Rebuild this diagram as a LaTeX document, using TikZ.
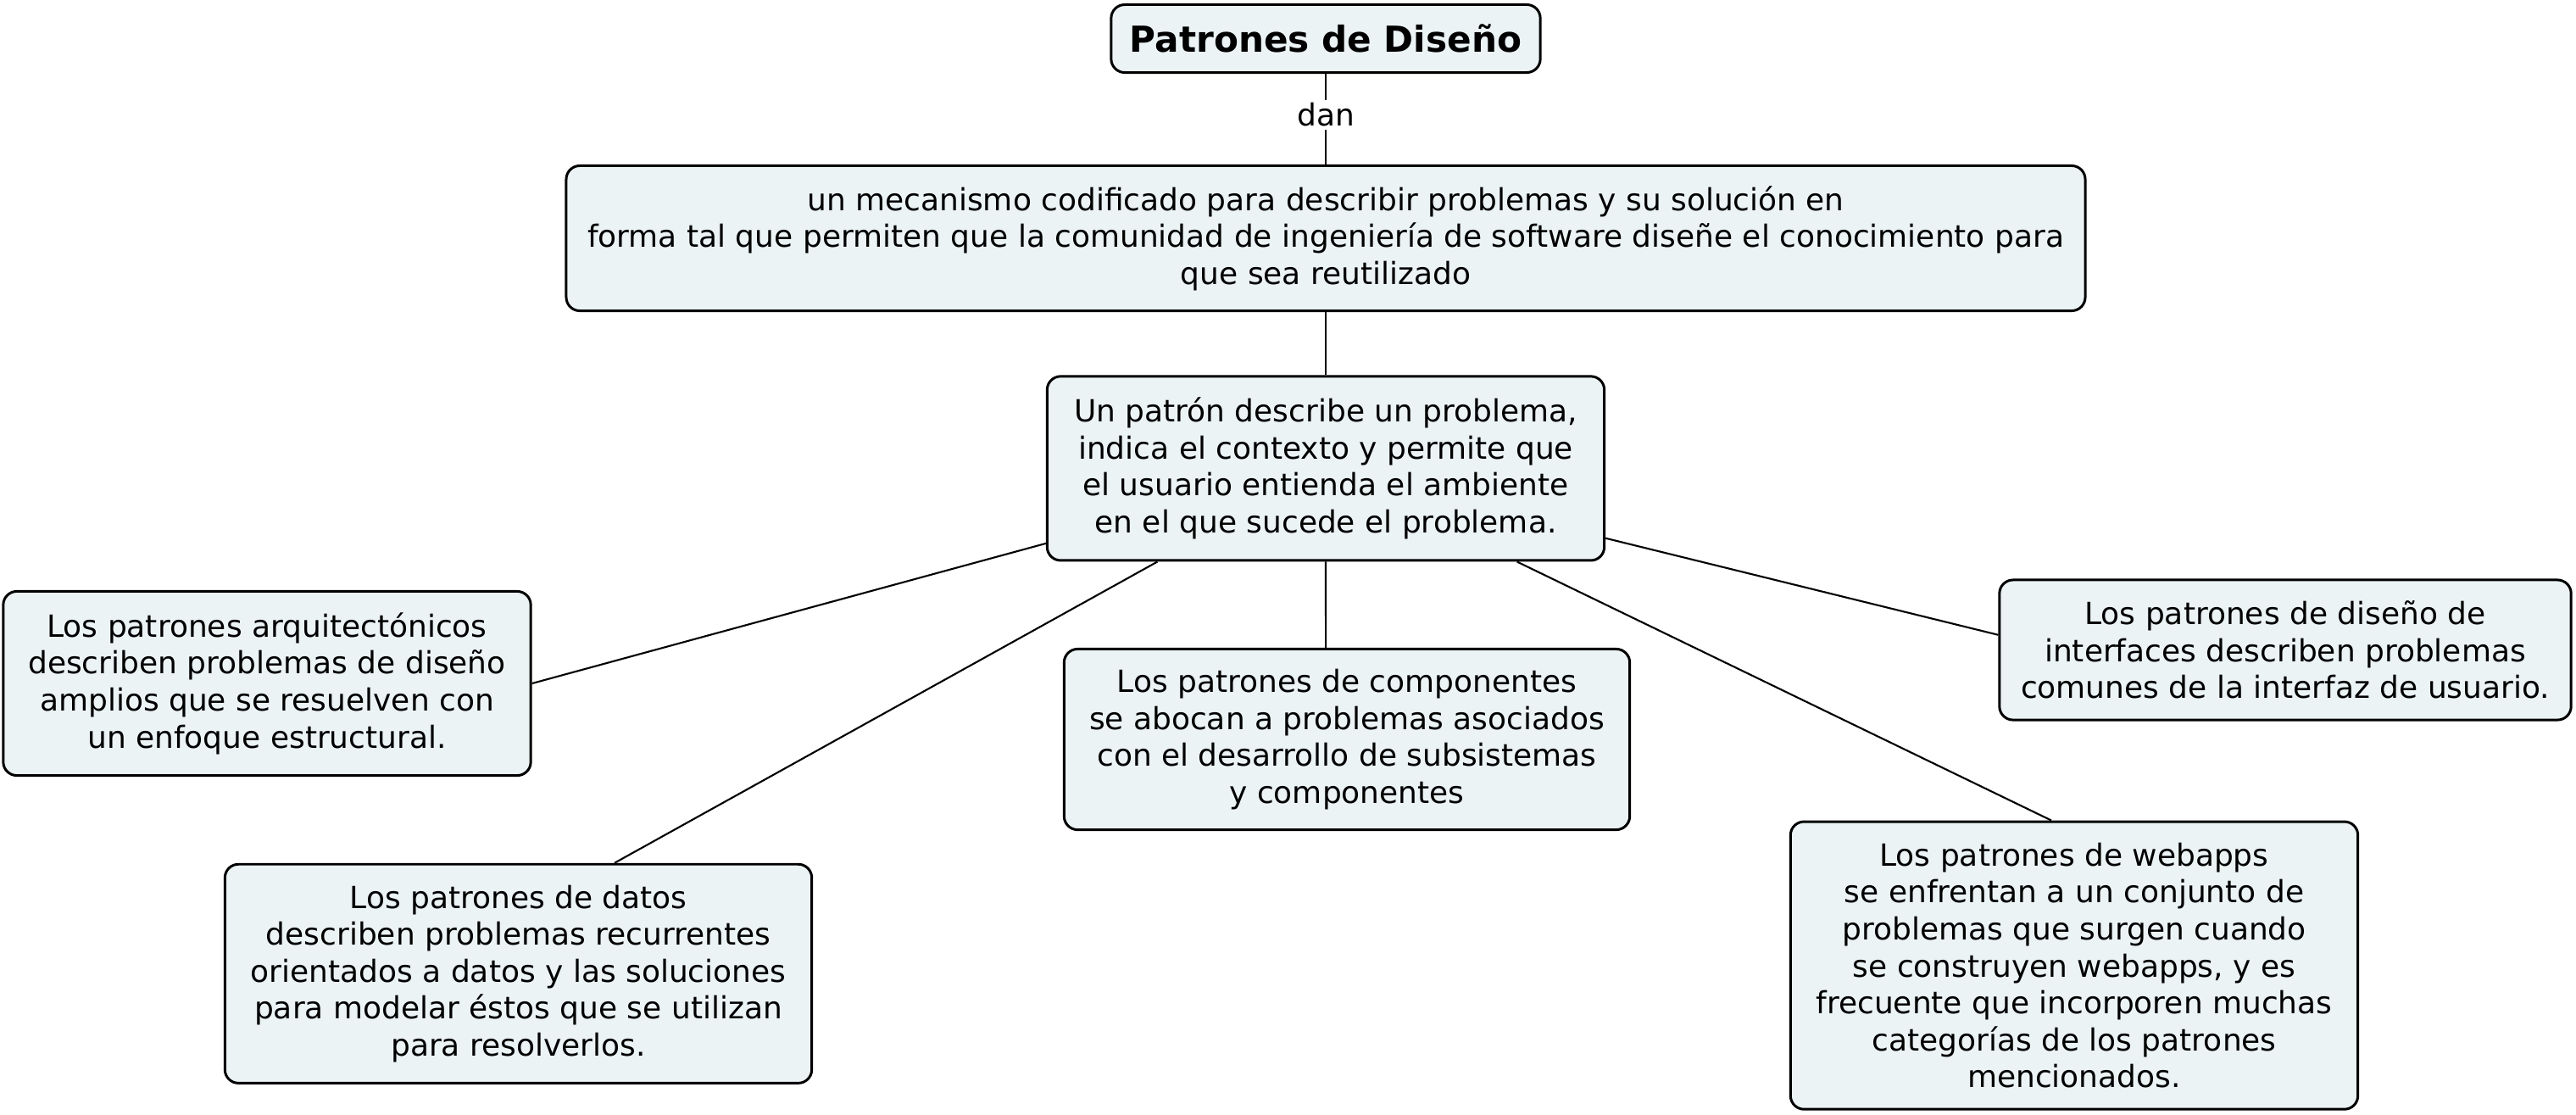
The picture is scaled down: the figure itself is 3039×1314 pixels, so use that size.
\documentclass[tikz,border=0pt]{standalone}
\usepackage{fontspec}
\setmainfont{DejaVu Sans}
\usepackage{tikz}
\usepackage{xcolor}
\usetikzlibrary{shapes}
\definecolor{conceptfill}{RGB}{235,243,245}

\begin{document}
\begin{tikzpicture}[x=0.01cm,y=-0.01cm,
concept/.style={draw,line width=0.85pt,rounded corners=0.16cm,fill=conceptfill,align=center,inner sep=0pt,font=\fontsize{10.23}{12.4}\selectfont},
link/.style={line width=0.6pt}]
\useasboundingbox (0,0) rectangle (3039,1314);
\node[concept,minimum width=5.06cm,minimum height=0.8cm,font=\bfseries\fontsize{12}{14}\selectfont](titulo) at (1564,45.5){Patrones de Diseño};
\node[concept,minimum width=17.91cm,minimum height=1.71cm](mecanismo) at (1564,281){un mecanismo codificado para describir problemas y su solución en\\forma tal que permiten que la comunidad de ingeniería de software diseñe el conocimiento para\\que sea reutilizado};
\node[concept,minimum width=6.57cm,minimum height=2.17cm](patron) at (1564,552.4){Un patrón describe un problema,\\indica el contexto y permite que\\el usuario entienda el ambiente\\en el que sucede el problema.};
\node[concept,minimum width=6.22cm,minimum height=2.17cm](arq) at (315,806){Los patrones arquitectónicos\\describen problemas de diseño\\amplios que se resuelven con\\un enfoque estructural.};
\node[concept,minimum width=6.92cm,minimum height=2.58cm](datos) at (611.5,1148.3){Los patrones de datos\\describen problemas recurrentes\\orientados a datos y las soluciones\\para modelar éstos que se utilizan\\para resolverlos.};
\node[concept,minimum width=6.67cm,minimum height=2.13cm](comp) at (1589,872){Los patrones de componentes\\se abocan a problemas asociados\\con el desarrollo de subsistemas\\y componentes};
\node[concept,minimum width=6.69cm,minimum height=3.39cm](webapps) at (2447,1138.6){Los patrones de webapps\\se enfrentan a un conjunto de\\problemas que surgen cuando\\se construyen webapps, y es\\frecuente que incorporen muchas\\categorías de los patrones\\mencionados.};
\node[concept,minimum width=6.74cm,minimum height=1.65cm](interfaz) at (2696,766.5){Los patrones de diseño de\\interfaces describen problemas\\comunes de la interfaz de usuario.};
\draw[link](titulo)--node[pos=0.45,fill=white,inner sep=1pt,font=\fontsize{10.23}{12}\selectfont]{dan}(mecanismo);
\draw[link](mecanismo)--(patron);
\draw[link](patron.195.2)--(arq.east);
\draw[link](patron.209.1)--(datos.49.6);
\draw[link](patron.south)--(comp.103.2);
\draw[link](patron.334)--(webapps.99.5);
\draw[link](patron.346.1)--(interfaz.177.5);
\end{tikzpicture}
\end{document}
